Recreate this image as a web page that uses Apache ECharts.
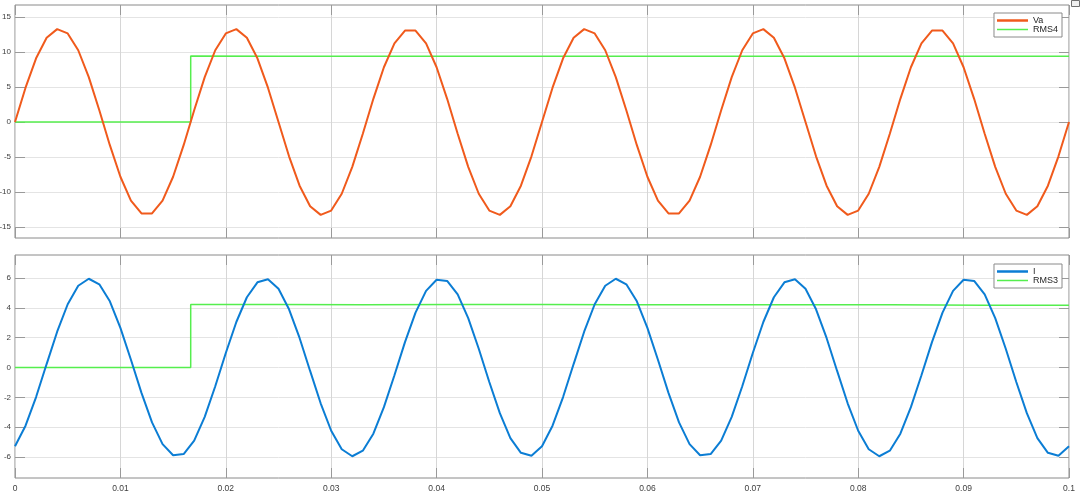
<!DOCTYPE html>
<html><head><meta charset="utf-8">
<script src="https://cdn.jsdelivr.net/npm/echarts@6/dist/echarts.min.js"></script>
<style>html,body{margin:0;padding:0;background:#fff}#c{width:1080px;height:497px}</style>
</head><body><div id="c"></div><script>
// sample times (s)
const times = [0,0.001,0.002,0.003,0.004,0.005,0.006,0.007,0.008,0.009,
0.010,0.011,0.012,0.013,0.014,0.015,0.016,0.017,0.018,0.019,
0.020,0.021,0.022,0.023,0.024,0.025,0.026,0.027,0.028,0.029,
0.030,0.031,0.032,0.033,0.034,0.035,0.036,0.037,0.038,0.039,
0.040,0.041,0.042,0.043,0.044,0.045,0.046,0.047,0.048,0.049,
0.050,0.051,0.052,0.053,0.054,0.055,0.056,0.057,0.058,0.059,
0.060,0.061,0.062,0.063,0.064,0.065,0.066,0.067,0.068,0.069,
0.070,0.071,0.072,0.073,0.074,0.075,0.076,0.077,0.078,0.079,
0.080,0.081,0.082,0.083,0.084,0.085,0.086,0.087,0.088,0.089,
0.090,0.091,0.092,0.093,0.094,0.095,0.096,0.097,0.098,0.099,0.100];
// Va voltage
const va = [0,4.90,9.10,12.03,13.27,12.65,10.25,6.41,1.67,-3.31,
-7.82,-11.23,-13.06,-13.06,-11.23,-7.82,-3.31,1.67,6.41,10.25,
12.65,13.27,12.03,9.10,4.90,0,-4.90,-9.10,-12.03,-13.27,
-12.65,-10.25,-6.41,-1.67,3.31,7.82,11.23,13.06,13.06,11.23,
7.82,3.31,-1.67,-6.41,-10.25,-12.65,-13.27,-12.03,-9.10,-4.90,
0,4.90,9.10,12.03,13.27,12.65,10.25,6.41,1.67,-3.31,
-7.82,-11.23,-13.06,-13.06,-11.23,-7.82,-3.31,1.67,6.41,10.25,
12.65,13.27,12.03,9.10,4.90,0,-4.90,-9.10,-12.03,-13.27,
-12.65,-10.25,-6.41,-1.67,3.31,7.82,11.23,13.06,13.06,11.23,
7.82,3.31,-1.67,-6.41,-10.25,-12.65,-13.27,-12.03,-9.10,-4.90,0];
// I current
const cur = [-5.28,-3.90,-1.98,0.23,2.40,4.24,5.48,5.95,5.58,4.44,
2.66,0.52,-1.70,-3.68,-5.14,-5.88,-5.80,-4.90,-3.31,-1.26,
0.97,3.05,4.71,5.71,5.92,5.28,3.90,1.98,-0.23,-2.40,
-4.24,-5.48,-5.95,-5.58,-4.44,-2.66,-0.52,1.70,3.68,5.14,
5.88,5.80,4.90,3.31,1.26,-0.97,-3.06,-4.73,-5.72,-5.92,
-5.28,-3.90,-1.98,0.23,2.40,4.24,5.48,5.95,5.58,4.44,
2.66,0.52,-1.70,-3.68,-5.14,-5.88,-5.80,-4.90,-3.31,-1.26,
0.97,3.05,4.71,5.71,5.92,5.28,3.90,1.98,-0.23,-2.40,
-4.24,-5.48,-5.95,-5.58,-4.44,-2.66,-0.52,1.70,3.68,5.14,
5.88,5.80,4.90,3.31,1.26,-0.97,-3.06,-4.73,-5.72,-5.92,-5.28];
// RMS traces
const rmsTimes = [0,0.01667,0.01667,0.025,0.033,0.042,0.05,0.058,0.067,0.075,0.083,0.092,0.1];
const rms4 = [0,0,9.42,9.41,9.40,9.41,9.40,9.38,9.40,9.41,9.39,9.40,9.40];
const rms3 = [0,0,4.23,4.22,4.21,4.22,4.23,4.21,4.20,4.21,4.20,4.18,4.17];
const topTicks = {min:-15, max:15, interval:5};
const botTicks = {min:-6, max:6, interval:2};

const pair = (xs, ys) => xs.map((t, i) => [t, ys[i]]);
const FONT = 'Liberation Sans, Arial, sans-serif';
const tickStyle = {show:true, inside:true, length:10, lineStyle:{color:'#9a9a9a', width:1}};
const vSplit = {show:true, lineStyle:{color:'#d6d6d6', width:1}};
const hSplit = {show:true, lineStyle:{color:'#e4e4e4', width:1}};

function frameX(gi, pos, labels, split){
  return {type:'value', gridIndex:gi, position:pos, min:0, max:0.1, interval:0.01,
    axisLine:{show:false}, axisTick:tickStyle, splitLine: split ? vSplit : {show:false},
    axisLabel: labels ? {show:true, margin:6, fontFamily:FONT, fontSize:8.5, color:'#404040', formatter:v => String(+v.toFixed(2))} : {show:false}};
}
function hiddenX(gi){ return {type:'value', gridIndex:gi, min:0, max:0.1, show:false}; }
function dataY(gi, pos, t, labels){
  return {type:'value', gridIndex:gi, position:pos, min:t.min, max:t.max, interval:t.interval,
    axisLine:{show:false}, axisTick:tickStyle, splitLine: labels ? hSplit : {show:false},
    axisLabel: labels ? {show:true, margin:4, fontFamily:FONT, fontSize:8, color:'#404040'} : {show:false}};
}
const frameGrid = (top, h) => ({left:15, top:top, width:1054, height:h, show:true, borderColor:'#8a8a8a', borderWidth:1, backgroundColor:'#fff', containLabel:false, outerBoundsMode:'none'});
const dataGrid = (top, h) => ({left:15, top:top, width:1054, height:h, show:false, containLabel:false, outerBoundsMode:'none'});
const icon = w => 'path://M0,0H31V' + w + 'H0Z';
const legendBase = {orient:'vertical', right:18, itemWidth:31, itemHeight:10, itemGap:0,
  padding:[3,4,3,3], borderColor:'#8a8a8a', borderWidth:1, backgroundColor:'#fff', borderRadius:0,
  symbolKeepAspect:true, textStyle:{fontFamily:FONT, fontSize:9, color:'#262626'}};

const chart = echarts.init(document.getElementById('c'), null, {renderer:'canvas'});
chart.setOption({
  animation:false,
  backgroundColor:'#fff',
  grid:[frameGrid(5,233), dataGrid(17,210), frameGrid(255,223), dataGrid(278,179)],
  xAxis:[frameX(0,'bottom',false,true), frameX(0,'top',false,false), hiddenX(1),
         frameX(2,'bottom',true,true), frameX(2,'top',false,false), hiddenX(3)],
  yAxis:[{type:'value', gridIndex:0, min:0, max:1, show:false},
         dataY(1,'left',topTicks,true), dataY(1,'right',topTicks,false),
         {type:'value', gridIndex:2, min:0, max:1, show:false},
         dataY(3,'left',botTicks,true), dataY(3,'right',botTicks,false)],
  legend:[
    Object.assign({}, legendBase, {top:13, data:[{name:'Va', icon:icon(2.5)}, {name:'RMS4', icon:icon(1.5)}]}),
    Object.assign({}, legendBase, {top:264, data:[{name:'I', icon:icon(2.5)}, {name:'RMS3', icon:icon(1.5)}]})
  ],
  series:[
    {name:'Va', type:'line', xAxisIndex:2, yAxisIndex:1, data:pair(times, va), symbol:'none',
     lineStyle:{color:'#f05a1c', width:2}, itemStyle:{color:'#f05a1c'}, z:3},
    {name:'RMS4', type:'line', xAxisIndex:2, yAxisIndex:1, data:pair(rmsTimes, rms4), symbol:'none',
     lineStyle:{color:'#55ee4e', width:1.5}, itemStyle:{color:'#55ee4e'}, z:2},
    {name:'I', type:'line', xAxisIndex:5, yAxisIndex:4, data:pair(times, cur), symbol:'none',
     lineStyle:{color:'#0b7dd4', width:2}, itemStyle:{color:'#0b7dd4'}, z:3},
    {name:'RMS3', type:'line', xAxisIndex:5, yAxisIndex:4, data:pair(rmsTimes, rms3), symbol:'none',
     lineStyle:{color:'#55ee4e', width:1.5}, itemStyle:{color:'#55ee4e'}, z:2}
  ],
  graphic:[{type:'rect', left:1071, top:0, shape:{width:8, height:6}, style:{fill:'#f0f0f0', stroke:'#707070', lineWidth:1}}]
});
</script></body></html>
